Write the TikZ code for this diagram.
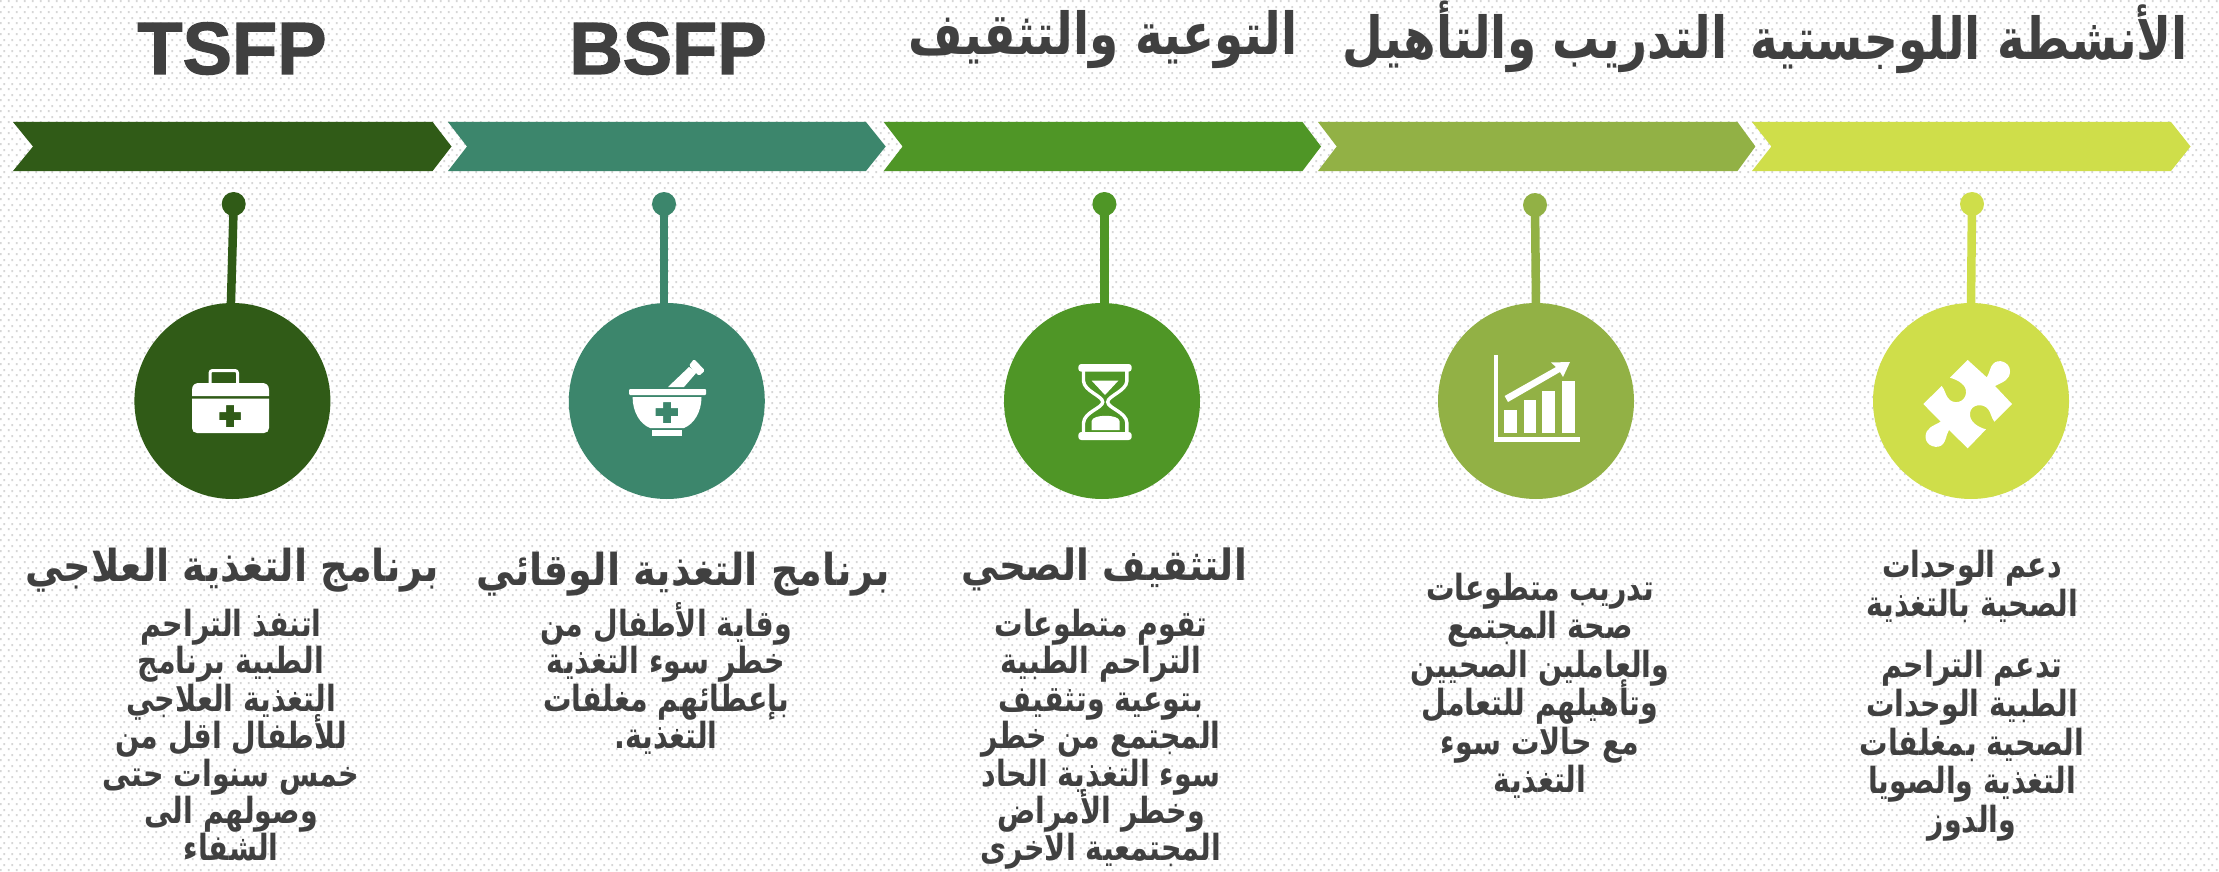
\documentclass[tikz,border=0pt]{standalone}
\usepackage{fontspec}
\usetikzlibrary{patterns}
\TeXXeTstate=1
\setmainfont[BoldFeatures={FakeBold=1.6}]{Liberation Sans}
\newfontfamily\arT[Script=Arabic,FakeStretch=0.81]{DejaVu Sans}
\newfontfamily\arS[Script=Arabic,FakeStretch=0.87]{DejaVu Sans}
\newfontfamily\arB[Script=Arabic,FakeStretch=0.79]{DejaVu Sans}
\definecolor{cOne}{HTML}{305B17}
\definecolor{cTwo}{HTML}{3C866C}
\definecolor{cThree}{HTML}{4F9626}
\definecolor{cFour}{HTML}{92B145}
\definecolor{cFive}{HTML}{CFDE4A}
\definecolor{ink}{HTML}{404040}
\definecolor{bgdot}{HTML}{D6D6D6}
\pgfdeclarepatternformonly{bgdots}{\pgfqpoint{0pt}{0pt}}{\pgfqpoint{8pt}{11pt}}{\pgfqpoint{8pt}{11pt}}{%
  \pgfpathrectangle{\pgfqpoint{1pt}{1pt}}{\pgfqpoint{2pt}{2pt}}%
  \pgfpathrectangle{\pgfqpoint{5pt}{6.5pt}}{\pgfqpoint{2pt}{2pt}}%
  \pgfusepath{fill}}
\tikzset{
  round disc/.style={circle,inner sep=0pt,minimum size=196pt,fill=#1},
  pin head/.style={circle,inner sep=0pt,minimum size=24pt,fill=#1},
  stem/.style={draw=#1,line width=8.5pt},
  latin head/.style={anchor=base,inner sep=0pt,text=ink,font=\fontsize{74}{74}\selectfont\bfseries},
  big head/.style={anchor=base,inner sep=0pt,text=ink,font=\arT\bfseries\fontsize{58}{58}\selectfont},
  sub head/.style={anchor=base,inner sep=0pt,text=ink,font=\arS\bfseries\fontsize{44}{44}\selectfont},
  body line/.style={anchor=base,inner sep=0pt,text=ink,font=\arB\bfseries\fontsize{36}{36}\selectfont},
  icon/.style={fill=white,draw=none},
}
\begin{document}
\begin{tikzpicture}[x=1pt,y=-1pt]
\path[use as bounding box,fill=white] (0,0) rectangle (2219,872);
\fill[pattern=bgdots,pattern color=bgdot] (0,0) rectangle (2219,872);
% chevrons
\fill[cOne] (13,122) -- (432.6,122) -- (451.5,146.5) -- (432.6,171) -- (13,171) -- (33,146.5) -- cycle;
\fill[cTwo] (448,122) -- (866,122) -- (885.7,146.5) -- (866,171) -- (448,171) -- (467,146.5) -- cycle;
\fill[cThree] (883.7,122) -- (1302.5,122) -- (1321,146.5) -- (1302.5,171) -- (883.7,171) -- (902.6,146.5) -- cycle;
\fill[cFour] (1318,122) -- (1737.5,122) -- (1755.4,146.5) -- (1737.5,171) -- (1318,171) -- (1336.7,146.5) -- cycle;
\fill[cFive] (1752,122) -- (2171,122) -- (2190.5,146.5) -- (2171,171) -- (1752,171) -- (1771.4,146.5) -- cycle;
% discs, pins
\node[round disc=cOne] (c1) at (232.4,401) {};
\node[round disc=cTwo] (c2) at (666.8,401) {};
\node[round disc=cThree] (c3) at (1102,401) {};
\node[round disc=cFour] (c4) at (1536,401) {};
\node[round disc=cFive] (c5) at (1971,401) {};
\node[pin head=cOne] (d1) at (233.7,204) {};
\node[pin head=cTwo] (d2) at (664,204) {};
\node[pin head=cThree] (d3) at (1104.4,204) {};
\node[pin head=cFour] (d4) at (1535,205) {};
\node[pin head=cFive] (d5) at (1972,204) {};
\draw[stem=cOne] (d1.center) -- ([xshift=-1.5pt,yshift=-2pt]c1.north);
\draw[stem=cTwo] (d2.center) -- ([yshift=-2pt]d2 |- c2.north);
\draw[stem=cThree] (d3.center) -- ([yshift=-2pt]d3 |- c3.north);
\draw[stem=cFour] (d4.center) -- ([yshift=-2pt]c4.north);
\draw[stem=cFive] (d5.center) -- ([yshift=-2pt]c5.north);
% medical case
\fill[icon] (192,396) -- (192,390) .. controls (192,385) and (195,383) .. (199,383) -- (262,383) .. controls (266,383) and (269,385) .. (269,390) -- (269,396) -- cycle;
\fill[icon,even odd rule] (192,398.5) -- (269,398.5) -- (269,428) .. controls (269,431) and (267,433) .. (264,433) -- (197,433) .. controls (194,433) and (192,431) .. (192,428) -- cycle
  (226,405) -- (226,412) -- (219.4,412) -- (219.4,420) -- (226,420) -- (226,427) -- (234,427) -- (234,420) -- (240.8,420) -- (240.8,412) -- (234,412) -- (234,405) -- cycle;
\draw[white,line width=3pt,rounded corners=2.5pt] (210,383) -- (210,370.5) -- (237.5,370.5) -- (237.5,383);
% mortar
\fill[icon,rounded corners=1pt] (629,389) rectangle (706,395);
\fill[icon,even odd rule] (632.6,397) -- (701.5,397) .. controls (701.5,412) and (694,424) .. (684,428) -- (650,428) .. controls (640,424) and (632.6,412) .. (632.6,397) -- cycle
  (663,402) -- (663,408) -- (655.6,408) -- (655.6,416) -- (663,416) -- (663,423) -- (671,423) -- (671,416) -- (678,416) -- (678,408) -- (671,408) -- (671,402) -- cycle;
\fill[icon] (651.5,430) rectangle (682,436);
\fill[icon] (668,387) -- (684,387) -- (697,372) -- (689,367) -- cycle;
\fill[icon,rounded corners=1.5pt] (689,365.5) -- (694,359) -- (705,370.5) -- (699,376) -- cycle;
% hourglass
\fill[icon,rounded corners=3pt] (1078.3,364) rectangle (1131.7,371.7);
\fill[icon,rounded corners=3pt] (1078.3,432) rectangle (1131.7,440);
\draw[white,line width=3.4pt] (1083.5,371) -- (1083.5,381) .. controls (1084,391) and (1102.7,396) .. (1102.7,402) .. controls (1102.7,408) and (1084,412) .. (1083.5,423) -- (1083.5,433);
\draw[white,line width=3.4pt] (1126.9,371) -- (1126.9,381) .. controls (1126.4,391) and (1107.7,396) .. (1107.7,402) .. controls (1107.7,408) and (1126.4,412) .. (1126.9,423) -- (1126.9,433);
\fill[icon] (1091.7,380.7) -- (1118.3,380.7) -- (1105,395) -- cycle;
\fill[icon] (1091.7,430) -- (1091.7,421) .. controls (1092,414) and (1119,414) .. (1119.5,421) -- (1119.5,430) -- cycle;
% chart
\fill[icon] (1494,355) rectangle (1498,442);
\fill[icon] (1494,437) rectangle (1580,442);
\fill[icon] (1504,410) rectangle (1517,433);
\fill[icon] (1523.5,400) rectangle (1536,433);
\fill[icon] (1542,391) rectangle (1555,433);
\fill[icon] (1562,381) rectangle (1574.5,433);
\fill[icon] (1504.6,396) -- (1556,367) -- (1551,362.5) -- (1570,362) -- (1563,377) -- (1560,372) -- (1508,402) -- cycle;
% puzzle piece
\fill[icon] (1967.7,360) -- (1950,377.7) .. controls (1958,380) and (1967,385) .. (1966,393) .. controls (1965,403) and (1953,405) .. (1948,398) .. controls (1945,394) and (1945,390) .. (1941.7,386)
  -- (1923.3,404) -- (1940.7,421.7) .. controls (1933,426) and (1925.5,428) .. (1925.5,437) .. controls (1925.5,446) and (1938,450) .. (1943,444) .. controls (1946,441) and (1946,435) .. (1949,430)
  -- (1967.7,448.3) -- (1986,429.3) .. controls (1977,427) and (1969,421) .. (1970,413) .. controls (1971,404) and (1983,403) .. (1988,409) .. controls (1991,413) and (1991,417) .. (1994.3,421.7)
  -- (2012,404) -- (1995,386) .. controls (2003,382) and (2010,380) .. (2010,371) .. controls (2010,362) and (1998,358) .. (1993,364) .. controls (1990,367) and (1990,372) .. (1986.7,377.3) -- cycle;
% titles
\node[latin head] (t1) at (232,74) {TSFP};
\node[latin head] (t2) at (668,74) {BSFP};
\node[big head] (t3) at (1103,55) {\beginR التوعية والتثقيف\endR};
\node[big head] (t4) at (1535,59) {\beginR التدريب والتأهيل\endR};
\node[big head] (t5) at (1969,60) {\beginR الأنشطة اللوجستية\endR};
% sub heads
\node[sub head] (s1) at (232,581) {\beginR برنامج التغذية العلاجي\endR};
\node[sub head] (s2) at (683,585) {\beginR برنامج التغذية الوقائي\endR};
\node[sub head,font=\arS\bfseries\fontsize{43}{43}\selectfont] (s3) at (1104,580) {\beginR التثقيف الصحي\endR};
% body text
\foreach \n/\y/\t in {1/636/اتنفذ التراحم,2/673.5/الطبية برنامج,3/711/التغذية العلاجي,4/748.5/للأطفال اقل من,5/786/خمس سنوات حتى,6/823.5/وصولهم الى,7/860/الشفاء}
  \node[body line] (aa\n) at (231,\y) {\beginR\t\endR};
\foreach \n/\y/\t in {1/636/وقاية الأطفال من,2/673.5/خطر سوء التغذية,3/711/بإعطائهم مغلفات,4/748.5/التغذية.}
  \node[body line] (bb\n) at (666,\y) {\beginR\t\endR};
\foreach \n/\y/\t in {1/636/تقوم متطوعات,2/673.5/التراحم الطبية,3/711/بتوعية وتثقيف,4/748.5/المجتمع من خطر,5/786/سوء التغذية الحاد,6/823.5/وخطر الأمراض,7/860/المجتمعية الاخرى}
  \node[body line] (cc\n) at (1101,\y) {\beginR\t\endR};
\foreach \n/\y/\t in {1/600/تدريب متطوعات,2/638.5/صحة المجتمع,3/677/والعاملين الصحيين,4/715.5/وتأهيلهم للتعامل,5/754/مع حالات سوء,6/792.5/التغذية}
  \node[body line] (dd\n) at (1540,\y) {\beginR\t\endR};
\foreach \n/\y/\t in {1/577/دعم الوحدات,2/616/الصحية بالتغذية,3/677/تدعم التراحم,4/716/الطبية الوحدات,5/755/الصحية بمغلفات,6/793/التغذية والصويا,7/832/والدوز}
  \node[body line] (ee\n) at (1972,\y) {\beginR\t\endR};
\end{tikzpicture}
\end{document}
